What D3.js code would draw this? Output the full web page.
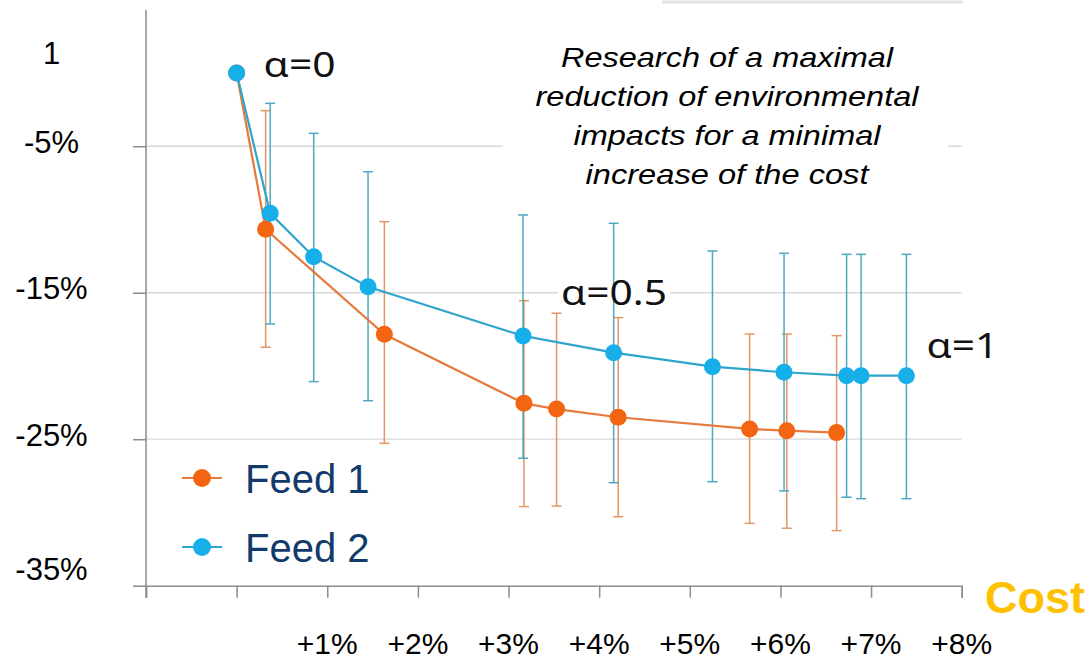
<!DOCTYPE html>
<html>
<head>
<meta charset="utf-8">
<script src="https://cdn.jsdelivr.net/npm/d3@7"></script>
<style>
  html, body { margin: 0; padding: 0; background: #ffffff; }
  svg { display: block; }
</style>
</head>
<body>
<svg id="chart" width="1088" height="659"></svg>
<script>
// ---------------- DATA ----------------
const seriesNames = ["Feed 1", "Feed 2"];

// Feed 1 (orange): cost increase (%) and impact change (%)
const feed1Cost   = [0, 0.32, 1.63, 3.17, 3.53, 4.21, 5.66, 6.07, 6.62];
const feed1Impact = [0, -10.67, -17.84, -22.55, -22.94, -23.50, -24.30, -24.42, -24.55];
const feed1High   = [null, -2.57, -10.15, -15.54, -16.40, -16.70, -17.82, -17.82, -17.93];
const feed1Low    = [null, -18.72, -25.28, -29.60, -29.56, -30.29, -30.74, -31.08, -31.24];

// Feed 2 (blue)
const feed2Cost   = [0, 0.37, 0.85, 1.45, 3.16, 4.16, 5.25, 6.04, 6.73, 6.89, 7.39];
const feed2Impact = [0, -9.58, -12.54, -14.59, -17.95, -19.09, -20.05, -20.43, -20.66, -20.66, -20.66];
const feed2High   = [null, -2.07, -4.12, -6.74, -9.69, -10.26, -12.15, -12.31, -12.38, -12.38, -12.38];
const feed2Low    = [null, -17.13, -21.07, -22.37, -26.30, -27.97, -27.90, -28.53, -28.96, -29.06, -29.06];

// Axis ticks
const xTickValues = [-1, 0, 1, 2, 3, 4, 5, 6, 7, 8];
const xTickLabels = ["", "", "+1%", "+2%", "+3%", "+4%", "+5%", "+6%", "+7%", "+8%"];
const yTickValues = [-5, -15, -25, -35];
const yLabelValues = [0, -5, -15, -25, -35];
const yLabelTexts  = ["1", "-5%", "-15%", "-25%", "-35%"];
const yGridValues  = [-5, -15, -25];

// Annotations
const alphaLabels  = ["α=0", "α=0.5", "α=1"];
const alphaIndex   = [0, 4, 10];  // index into Feed 2 points
const noteLines = [
  "Research of a maximal",
  "reduction of environmental",
  "impacts for a minimal",
  "increase of the cost"
];
const axisTitle = "Cost";

// ---------------- LAYOUT / STYLE ----------------
const svg = d3.select("#chart");
const x = d3.scaleLinear().domain([-1, 8]).range([146, 961.7]);
const y = d3.scaleLinear().domain([0, -35]).range([73, 585.7]);

const COL1 = "#f36511", LINE1 = "#e57a3c", ERR1 = "#df8c55";
const COL2 = "#17afea", LINE2 = "#2fa5cc", ERR2 = "#3c9fba";
const AXIS = "#8d8d8d", GRID = "#d9d9d9";
const FONT = "'Liberation Sans', Arial, Helvetica, sans-serif";

const feed1 = feed1Cost.map((c, i) => ({c, v: feed1Impact[i], hi: feed1High[i], lo: feed1Low[i]}));
const feed2 = feed2Cost.map((c, i) => ({c, v: feed2Impact[i], hi: feed2High[i], lo: feed2Low[i]}));

// gridlines
svg.append("g").selectAll("line").data(yGridValues).join("line")
  .attr("x1", x(-1)).attr("x2", x(8))
  .attr("y1", d => y(d)).attr("y2", d => y(d))
  .attr("stroke", GRID).attr("stroke-width", 1.3);

// faint top border fragment
svg.append("line").attr("x1", 662).attr("x2", 963).attr("y1", 2).attr("y2", 2)
  .attr("stroke", "#e2e2e2").attr("stroke-width", 3);

// white box behind note
svg.append("rect").attr("x", 503).attr("y", 24).attr("width", 445).attr("height", 172)
  .attr("fill", "#ffffff");

// white boxes behind alpha labels
const alphaPos = alphaIndex.map((idx, i) => {
  const p = feed2[idx];
  const px = x(p.c), py = y(p.v);
  const off = [[27, 4], [38, -31], [20, -18]][i];
  return {text: alphaLabels[i], x: px + off[0], y: py + off[1], w: [72, 106, 72][i]};
});
svg.append("g").selectAll("rect").data(alphaPos).join("rect")
  .attr("x", d => d.x - 3).attr("y", d => d.y - 28)
  .attr("width", d => d.w + 6).attr("height", 33)
  .attr("fill", "#ffffff");

// x axis
const gx = svg.append("g").attr("transform", `translate(0,${y(-35)})`)
  .call(d3.axisBottom(x).tickValues(xTickValues).tickSize(12).tickSizeOuter(12).tickFormat(""));
gx.selectAll("path, line").attr("stroke", AXIS).attr("stroke-width", 1.5);

// y axis
const gy = svg.append("g").attr("transform", `translate(${x(-1)},0)`)
  .call(d3.axisLeft(y).tickValues(yTickValues).tickSize(13).tickSizeOuter(0).tickFormat(""));
gy.select(".domain").remove();
gy.selectAll("line").attr("stroke", AXIS).attr("stroke-width", 1.5);
svg.append("line").attr("x1", x(-1)).attr("x2", x(-1))
  .attr("y1", 10).attr("y2", y(-35) + 12)
  .attr("stroke", AXIS).attr("stroke-width", 1.5);

// x labels
svg.append("g").selectAll("text").data(xTickValues.map((v, i) => ({v, t: xTickLabels[i]})).filter(d => d.t))
  .join("text")
  .attr("x", d => x(d.v)).attr("y", 654)
  .attr("text-anchor", "middle")
  .attr("font-family", FONT).attr("font-size", 30).attr("fill", "#000")
  .text(d => d.t);

// y labels
const nLab = yLabelValues.length;
svg.append("g").selectAll("text").data(yLabelValues.map((v, i) => ({v, t: yLabelTexts[i], i})))
  .join("text")
  .attr("x", 51.5)
  .attr("y", d => y(d.v) + 6.5 + (d.i === 0 ? -16 : d.i === nLab - 1 ? -12 : 0))
  .attr("text-anchor", "middle")
  .attr("font-family", FONT).attr("font-size", 31).attr("fill", "#000")
  .text(d => d.t);

// error bars
function drawErrors(data, color) {
  const g = svg.append("g").attr("stroke", color).attr("stroke-width", 1.5).attr("opacity", 0.9);
  data.filter(d => d.hi !== null).forEach(d => {
    const cx = x(d.c);
    g.append("line").attr("x1", cx).attr("x2", cx).attr("y1", y(d.hi)).attr("y2", y(d.lo));
    g.append("line").attr("x1", cx - 5).attr("x2", cx + 5).attr("y1", y(d.hi)).attr("y2", y(d.hi));
    g.append("line").attr("x1", cx - 5).attr("x2", cx + 5).attr("y1", y(d.lo)).attr("y2", y(d.lo));
  });
}
drawErrors(feed1, ERR1);
drawErrors(feed2, ERR2);

// lines
const lineGen = d3.line().x(d => x(d.c)).y(d => y(d.v));
svg.append("path").datum(feed1).attr("d", lineGen)
  .attr("fill", "none").attr("stroke", LINE1).attr("stroke-width", 2.2);
svg.append("path").datum(feed2).attr("d", lineGen)
  .attr("fill", "none").attr("stroke", LINE2).attr("stroke-width", 2.2);

// points
svg.append("g").selectAll("circle").data(feed1).join("circle")
  .attr("cx", d => x(d.c)).attr("cy", d => y(d.v)).attr("r", 8.5).attr("fill", COL1);
svg.append("g").selectAll("circle").data(feed2).join("circle")
  .attr("cx", d => x(d.c)).attr("cy", d => y(d.v)).attr("r", 8.5).attr("fill", COL2);

// alpha labels
svg.append("g").selectAll("text").data(alphaPos).join("text")
  .attr("x", d => d.x).attr("y", d => d.y)
  .attr("font-family", "'Noto Sans', 'Open Sans', sans-serif")
  .attr("font-size", 35).attr("fill", "#111")
  .attr("textLength", d => d.w).attr("lengthAdjust", "spacingAndGlyphs")
  .text(d => d.text);

// note text
const noteW = [332, 383, 307, 283];
svg.append("g").selectAll("text").data(noteLines).join("text")
  .attr("x", 727).attr("y", (d, i) => 66.7 + i * 39)
  .attr("text-anchor", "middle")
  .attr("font-family", FONT).attr("font-style", "italic")
  .attr("font-size", 28).attr("fill", "#000")
  .attr("textLength", (d, i) => noteW[i]).attr("lengthAdjust", "spacingAndGlyphs")
  .text(d => d);

// legend
const legend = svg.append("g");
const legRows = seriesNames.map((name, i) => ({name, color: [COL1, COL2][i], line: [LINE1, LINE2][i], cy: 478 + i * 69}));
legend.selectAll("line").data(legRows).join("line")
  .attr("x1", 182).attr("x2", 222).attr("y1", d => d.cy).attr("y2", d => d.cy)
  .attr("stroke", d => d.line).attr("stroke-width", 2.2);
legend.selectAll("circle").data(legRows).join("circle")
  .attr("cx", 202).attr("cy", d => d.cy).attr("r", 9).attr("fill", d => d.color);
legend.selectAll("text").data(legRows).join("text")
  .attr("x", 245).attr("y", d => d.cy + 15)
  .attr("font-family", FONT).attr("font-size", 40).attr("fill", "#123a6a")
  .text(d => d.name);

// axis title
svg.append("text").attr("x", 985).attr("y", 613)
  .attr("font-family", FONT).attr("font-weight", "bold").attr("font-size", 45)
  .attr("fill", "#ffc000").text(axisTitle);
</script>
</body>
</html>
